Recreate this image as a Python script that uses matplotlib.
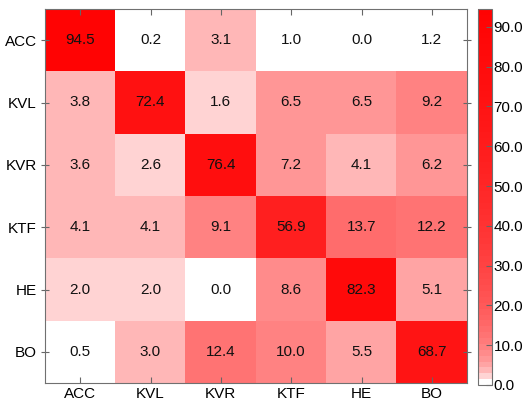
import numpy as np
import matplotlib.pyplot as plt
from matplotlib.colors import ListedColormap

plt.rcParams['font.family'] = ['Liberation Sans', 'DejaVu Sans']

labels = ['ACC', 'KVL', 'KVR', 'KTF', 'HE', 'BO']
acc = [94.5, 0.2, 3.1, 1.0, 0.0, 1.2]
kvl = [3.8, 72.4, 1.6, 6.5, 6.5, 9.2]
kvr = [3.6, 2.6, 76.4, 7.2, 4.1, 6.2]
ktf = [4.1, 4.1, 9.1, 56.9, 13.7, 12.2]
he = [2.0, 2.0, 0.0, 8.6, 82.3, 5.1]
bo = [0.5, 3.0, 12.4, 10.0, 5.5, 68.7]

cm = np.array([acc, kvl, kvr, ktf, he, bo])
vmax = cm.max()

# white -> red palette, 64 steps, strong change near zero
n = 64
centers = (np.arange(n) + 0.5) * vmax / n
x = np.clip(0.218 * np.log(centers) - 0.003, 0, 1)
x[0] = 0
cols = np.ones((n, 4))
cols[:, 1] = 1 - x
cols[:, 2] = 1 - x
cmap = ListedColormap(cols)

fig = plt.figure(figsize=(5.24, 4.03), dpi=100)
ax = fig.add_axes([45/524, 1 - 383/403, 422/524, 374/403])
cax = fig.add_axes([478/524, 1 - 385/403, 14/524, 376/403])

im = ax.imshow(cm, cmap=cmap, vmin=0, vmax=vmax, aspect='auto', interpolation='nearest')

for i in range(6):
    for j in range(6):
        ax.text(j, i, '%.1f' % cm[i, j], ha='center', va='center', fontsize=11, color='#111111')

ax.set_xticks(range(6))
ax.set_yticks(range(6))
ax.set_xticklabels(labels, fontsize=11)
ax.set_yticklabels(labels, fontsize=11)
ax.tick_params(direction='in', length=4, top=True, right=True, color='#666666', pad=3)
ax.tick_params(axis='y', direction='inout', length=6)
for s in ax.spines.values():
    s.set_color('#707070')

cb = fig.colorbar(im, cax=cax, ticks=np.arange(0, 91, 10), format='%.1f')
cb.ax.tick_params(direction='in', length=4, color='#666666', labelsize=11, pad=1)
cb.outline.set_edgecolor('#707070')

fig.savefig('out.png', dpi=100)
